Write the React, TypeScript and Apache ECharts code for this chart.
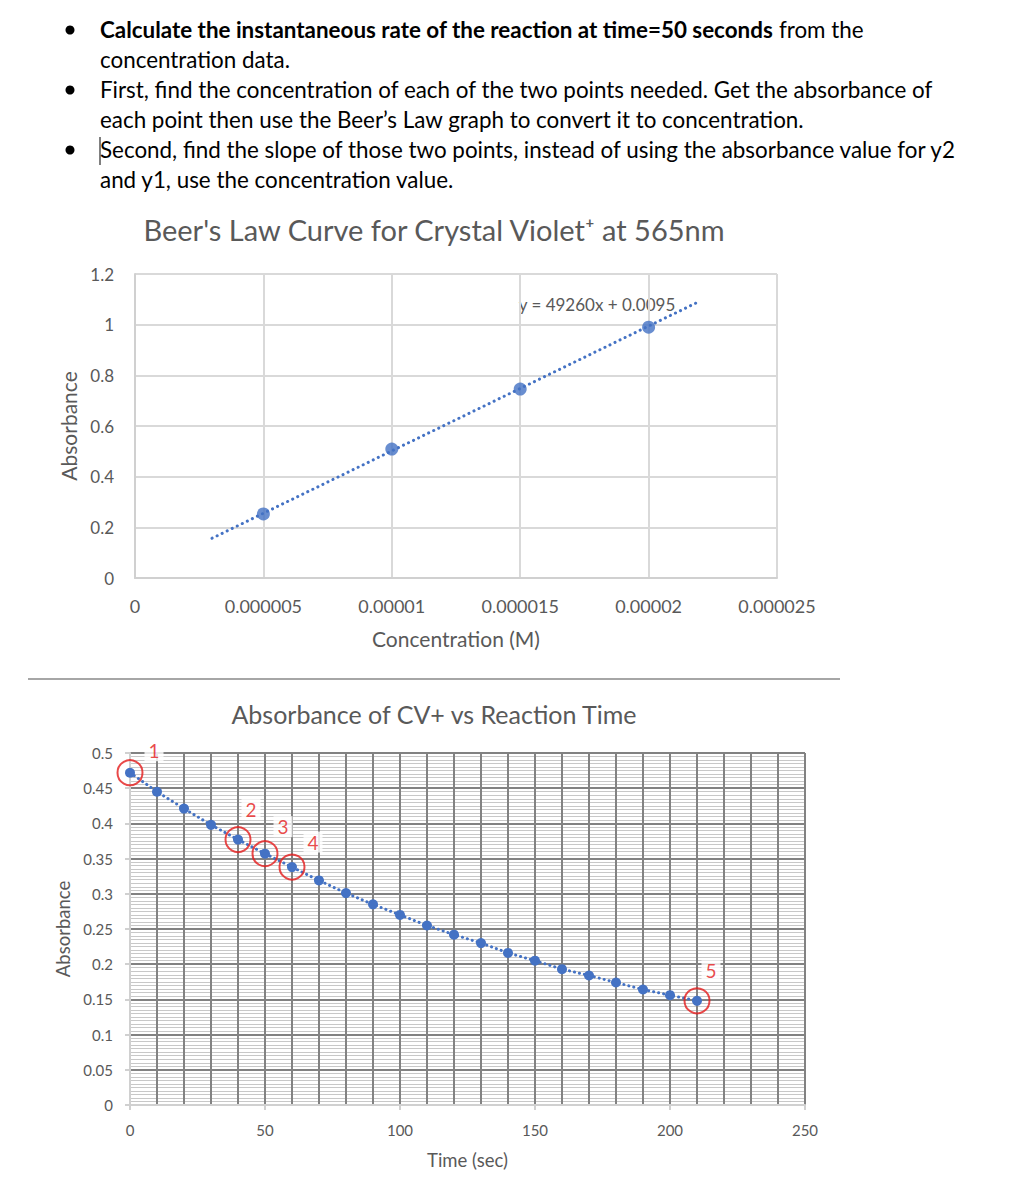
import React, { useEffect, useRef } from "react";
import * as echarts from "echarts";

// ---- Beer's Law data ----
const beerConc = [0.000005, 0.00001, 0.000015, 0.00002];
const beerAbs = [0.253, 0.509, 0.746, 0.99];
const beerTrendX = [0.000003, 0.000022];
const beerTrendY = [0.157, 1.093];
const beerXTicks = ["0", "0.000005", "0.00001", "0.000015", "0.00002", "0.000025"];

// ---- Kinetics data ----
const times = [0, 10, 20, 30, 40, 50, 60, 70, 80, 90, 100, 110, 120, 130, 140, 150, 160, 170, 180, 190, 200, 210];
const absorbance = [0.472, 0.445, 0.421, 0.398, 0.377, 0.357, 0.338, 0.319, 0.301, 0.285, 0.27, 0.255, 0.242, 0.23, 0.216, 0.205, 0.193, 0.184, 0.174, 0.164, 0.156, 0.148];
const highlightIdx = [0, 4, 5, 6, 21];
const highlightLabels = ["1", "2", "3", "4", "5"];
const calloutOffsets = [[24, -22], [13, -30], [18, -27], [21, -25], [14, -30]];

const bulletLines = [
  "{b|Calculate the instantaneous rate of the reaction at time=50 seconds}{n| from the}",
  "concentration data.",
  "First, find the concentration of each of the two points needed. Get the absorbance of",
  "each point then use the Beer\u2019s Law graph to convert it to concentration.",
  "Second, find the slope of those two points, instead of using the absorbance value for y2",
  "and y1, use the concentration value.",
];
const bulletRows = [0, 2, 4];

const FONT = "Lato";
const BLUE = "#4472C4";
const GREY_TXT = "#595959";
const BODY_SIZE = 22.4;

export default function App() {
  const ref = useRef<HTMLDivElement>(null);
  useEffect(() => {
    if (!ref.current) return;
    const chart = echarts.init(ref.current, undefined, { renderer: "svg" });

    const graphics: any[] = [];
    bulletLines.forEach((t, i) => {
      graphics.push({
        type: "text",
        x: 100,
        y: 29 + i * 30,
        style: {
          text: t,
          fontFamily: FONT,
          fontSize: BODY_SIZE,
          fill: "#000",
          textVerticalAlign: "middle",
          rich: {
            b: { fontFamily: FONT, fontSize: BODY_SIZE, fontWeight: "bold", fill: "#000", color: "#000" },
            n: { fontFamily: FONT, fontSize: BODY_SIZE, fill: "#000", color: "#000" },
          },
        },
      });
    });
    bulletRows.forEach((r) => {
      graphics.push({ type: "circle", shape: { cx: 70, cy: 30 + r * 30, r: 4.5 }, style: { fill: "#000" } });
    });
    graphics.push({ type: "line", shape: { x1: 100, y1: 137, x2: 100, y2: 165 }, style: { stroke: "#000", lineWidth: 1 } });
    graphics.push({
      type: "text", x: 434, y: 229,
      style: { text: "Beer's Law Curve for Crystal Violet\u207A at 565nm", fontFamily: FONT, fontSize: 29, fill: GREY_TXT, textAlign: "center", textVerticalAlign: "middle" },
    });
    graphics.push({
      type: "text", x: 597, y: 304,
      style: { text: "y = 49260x + 0.0095", fontFamily: FONT, fontSize: 17, fill: GREY_TXT, textAlign: "center", textVerticalAlign: "middle" },
    });
    graphics.push({ type: "line", shape: { x1: 28, y1: 679, x2: 840, y2: 679 }, style: { stroke: "#a6a6a6", lineWidth: 2 } });
    graphics.push({
      type: "text", x: 434, y: 714,
      style: { text: "Absorbance of CV+ vs Reaction Time", fontFamily: FONT, fontSize: 25, fill: GREY_TXT, textAlign: "center", textVerticalAlign: "middle" },
    });

    const option: any = {
      animation: false,
      backgroundColor: "#fff",
      textStyle: { fontFamily: FONT },
      graphic: graphics,
      grid: [
        { left: 135, top: 274, width: 642, height: 304, containLabel: false },
        { left: 130, top: 753, width: 675, height: 352, containLabel: false },
      ],
      xAxis: [
        {
          gridIndex: 0, type: "value", min: 0, max: 0.000025, interval: 0.000005,
          name: "Concentration (M)", nameLocation: "middle", nameGap: 50,
          nameTextStyle: { fontFamily: FONT, fontSize: 21, color: GREY_TXT },
          axisLine: { show: true, lineStyle: { color: "#d0d0d0", width: 2 } },
          axisTick: { show: false },
          axisLabel: {
            margin: 19, fontFamily: FONT, fontSize: 18, color: GREY_TXT,
            formatter: (v: number) => beerXTicks[Math.round(v / 0.000005)] ?? "",
          },
          splitLine: { show: true, lineStyle: { color: "#d9d9d9", width: 2 } },
        },
        {
          gridIndex: 1, type: "value", min: 0, max: 250, interval: 50,
          name: "Time (sec)", nameLocation: "middle", nameGap: 45,
          nameTextStyle: { fontFamily: FONT, fontSize: 18.5, color: GREY_TXT },
          axisLine: { show: true, lineStyle: { color: "#d0d0d0", width: 2 } },
          axisTick: { show: true, length: 5, lineStyle: { color: "#d0d0d0", width: 2 } },
          minorTick: { show: false, splitNumber: 5 },
          axisLabel: { margin: 17, fontFamily: FONT, fontSize: 15, color: GREY_TXT },
          splitLine: { show: true, lineStyle: { color: "#828282", width: 2 } },
          minorSplitLine: { show: true, lineStyle: { color: "#828282", width: 2 } },
        },
      ],
      yAxis: [
        {
          gridIndex: 0, type: "value", min: 0, max: 1.2, interval: 0.2,
          name: "Absorbance", nameLocation: "middle", nameGap: 56,
          nameTextStyle: { fontFamily: FONT, fontSize: 21, color: GREY_TXT },
          axisLine: { show: true, lineStyle: { color: "#d0d0d0", width: 2 } },
          axisTick: { show: false },
          axisLabel: { margin: 21, fontFamily: FONT, fontSize: 17, color: GREY_TXT },
          splitLine: { show: true, lineStyle: { color: "#d9d9d9", width: 2 } },
        },
        {
          gridIndex: 1, type: "value", min: 0, max: 0.5, interval: 0.05,
          name: "Absorbance", nameLocation: "middle", nameGap: 57,
          nameTextStyle: { fontFamily: FONT, fontSize: 18.5, color: GREY_TXT },
          axisLine: { show: true, lineStyle: { color: "#d0d0d0", width: 2 } },
          axisTick: { show: true, length: 5, lineStyle: { color: "#d0d0d0", width: 2 } },
          minorTick: { show: false, splitNumber: 10 },
          axisLabel: {
            margin: 17, fontFamily: FONT, fontSize: 15, color: GREY_TXT,
            formatter: (v: number) => String(parseFloat(v.toFixed(2))),
          },
          splitLine: { show: true, lineStyle: { color: "#828282", width: 2 } },
          minorSplitLine: { show: true, lineStyle: { color: "#c8c8c8", width: 1.2 } },
        },
      ],
      series: [
        {
          type: "line", xAxisIndex: 0, yAxisIndex: 0, z: 2,
          data: beerTrendX.map((x, i) => [x, beerTrendY[i]]),
          symbol: "none",
          lineStyle: { color: BLUE, width: 3, type: [0.1, 5.5], cap: "round" },
        },
        {
          type: "scatter", xAxisIndex: 0, yAxisIndex: 0, z: 3,
          data: beerConc.map((x, i) => [x, beerAbs[i]]),
          symbol: "circle", symbolSize: 13,
          itemStyle: { color: BLUE },
        },
        {
          type: "line", xAxisIndex: 1, yAxisIndex: 1, z: 3,
          data: times.map((t, i) => [t, absorbance[i]]),
          symbol: "circle", symbolSize: 10, showSymbol: true,
          itemStyle: { color: BLUE },
          lineStyle: { color: BLUE, width: 3, type: [0.1, 5], cap: "round" },
        },
        {
          type: "scatter", xAxisIndex: 1, yAxisIndex: 1, z: 4,
          data: highlightIdx.map((idx, k) => ({
            value: [times[idx], absorbance[idx]],
            name: highlightLabels[k],
            label: { offset: calloutOffsets[k] },
          })),
          symbol: "circle", symbolSize: 25,
          itemStyle: { color: "rgba(0,0,0,0)", borderColor: "#e31b1b", borderWidth: 2 },
          label: {
            show: true, formatter: "{b}", position: "inside",
            color: "#e31b1b", fontFamily: FONT, fontSize: 19,
            backgroundColor: "#fff", padding: [1, 4],
          },
        },
      ],
    };
    chart.setOption(option);
    return () => chart.dispose();
  }, []);
  return (
    <div
      ref={ref}
      style={{ position: "absolute", left: 0, top: 0, width: 1010, height: 1196 }}
    />
  );
}
